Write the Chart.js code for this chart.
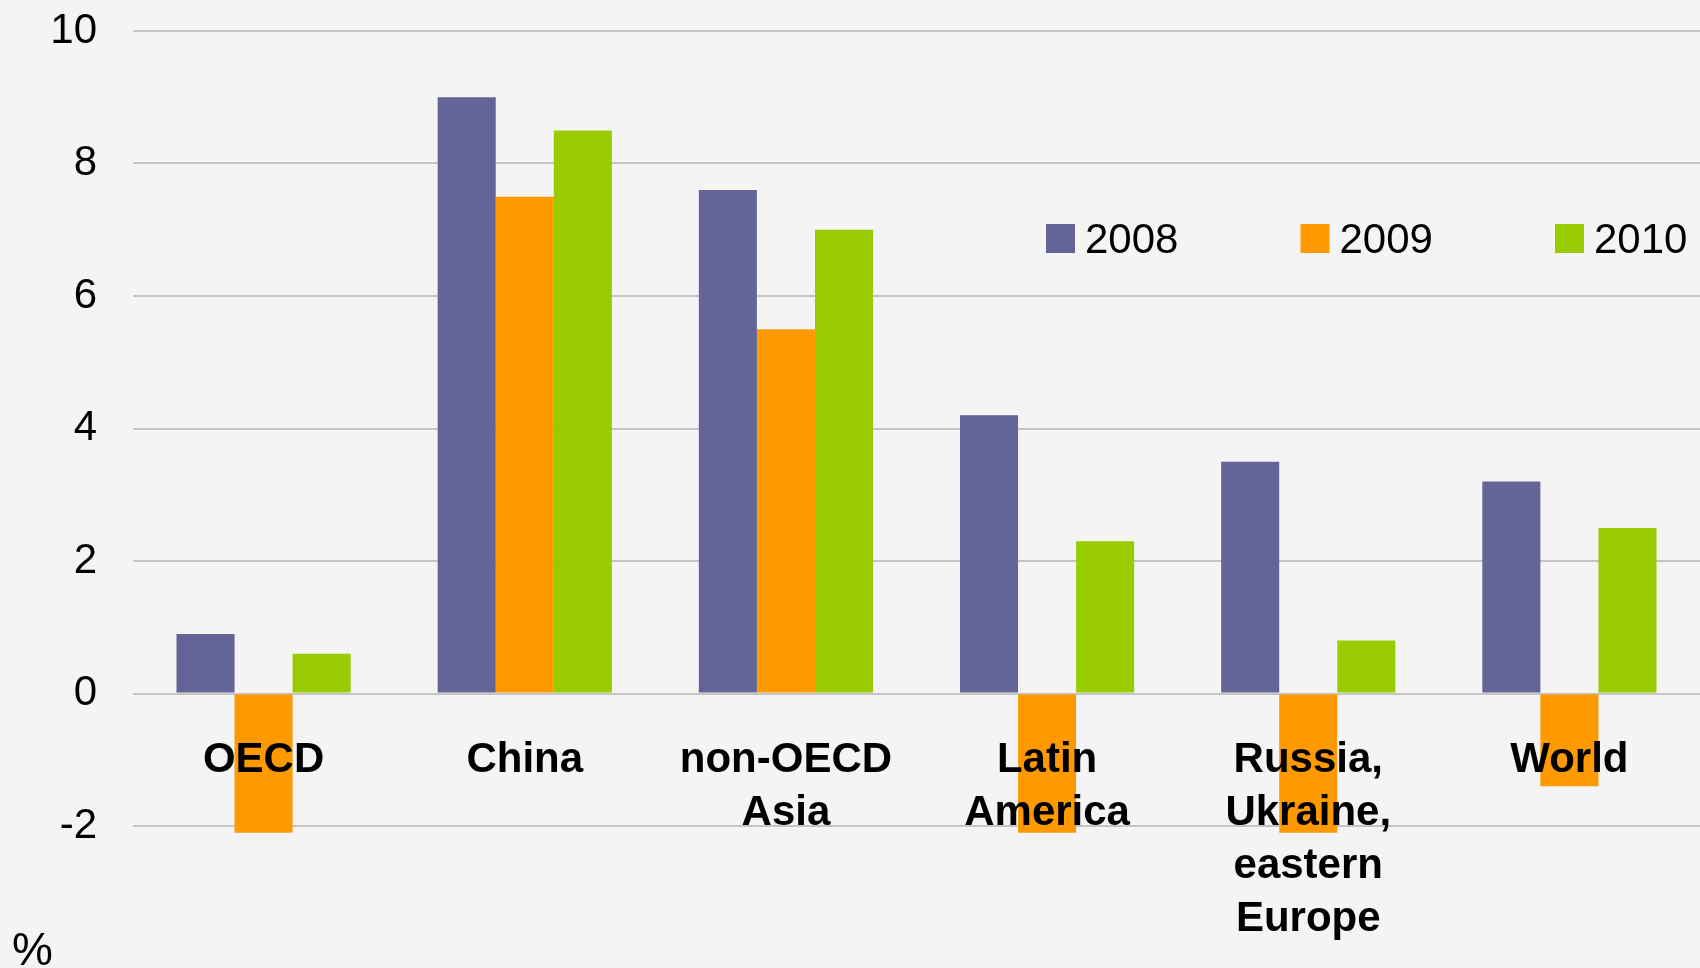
<!DOCTYPE html>
<html>
<head>
<meta charset="utf-8">
<script src="https://cdn.jsdelivr.net/npm/chart.js@4.4.0/dist/chart.umd.min.js"></script>
<style>
  html, body { margin: 0; padding: 0; background: #F4F4F4; }
  #wrap { width: 1700px; height: 968px; position: relative; }
  canvas { display: block; }
</style>
</head>
<body>
<div id="wrap"><canvas id="c" width="1700" height="968"></canvas></div>
<script>
// ---- Data ----
const categories = [
  ["OECD"],
  ["China"],
  ["non-OECD", "Asia"],
  ["Latin", "America"],
  ["Russia,", "Ukraine,", "eastern", "Europe"],
  ["World"]
];
const seriesNames = ["2008", "2009", "2010"];
const values2008 = [0.9, 9.0, 7.6, 4.2, 3.5, 3.2];
const values2009 = [-2.1, 7.5, 5.5, -2.1, -2.1, -1.4];
const values2010 = [0.6, 8.5, 7.0, 2.3, 0.8, 2.5];
const yTicks = [-2, 0, 2, 4, 6, 8, 10];
const unitLabel = "%";

const colors = ["#646496", "#FF9900", "#99CC00"];
const FONT = "'Liberation Sans', Arial, Helvetica, sans-serif";

const bgPlugin = {
  id: 'bg',
  beforeDraw(chart) {
    const ctx = chart.ctx;
    ctx.save();
    ctx.fillStyle = '#F4F4F4';
    ctx.fillRect(0, 0, chart.width, chart.height);
    ctx.restore();
  }
};

const labelsPlugin = {
  id: 'catLabels',
  afterDatasetsDraw(chart) {
    const ctx = chart.ctx;
    const xs = chart.scales.x, ys = chart.scales.y;
    const y0 = ys.getPixelForValue(0);
    ctx.save();
    ctx.fillStyle = '#000';
    ctx.textAlign = 'center';
    ctx.textBaseline = 'alphabetic';
    ctx.font = "bold 42px " + FONT;
    chart.data.labels.forEach((lines, i) => {
      const x = xs.getPixelForValue(i);
      lines.forEach((t, j) => {
        ctx.fillText(t, x, y0 + 78 + j * 53);
      });
    });
    // legend
    ctx.font = "42px " + FONT;
    ctx.textAlign = 'left';
    chart.data.datasets.forEach((ds, i) => {
      const lx = 1046 + i * 254.5;
      ctx.fillStyle = ds.backgroundColor;
      ctx.fillRect(lx, 224, 29, 29);
      ctx.fillStyle = '#000';
      ctx.fillText(ds.label, lx + 39, 253);
    });
    // unit label
    ctx.font = "46px " + FONT;
    ctx.fillText(unitLabel, 12, 965);
    ctx.restore();
  }
};

new Chart(document.getElementById('c'), {
  type: 'bar',
  data: {
    labels: categories,
    datasets: [
      { label: seriesNames[0], data: values2008, backgroundColor: colors[0] },
      { label: seriesNames[1], data: values2009, backgroundColor: colors[1] },
      { label: seriesNames[2], data: values2010, backgroundColor: colors[2] }
    ]
  },
  options: {
    responsive: false,
    animation: false,
    devicePixelRatio: 1,
    layout: { padding: { top: 31, bottom: 142, left: 0, right: 0 } },
    datasets: { bar: { categoryPercentage: 0.667, barPercentage: 1.0, clip: false, borderWidth: 0 } },
    plugins: { legend: { display: false }, tooltip: { enabled: false } },
    scales: {
      x: { display: false, grid: { display: false } },
      y: {
        min: -2, max: 10,
        afterBuildTicks(axis) { axis.ticks = yTicks.map(v => ({ value: v })); },
        afterFit(axis) { axis.width = 133; axis.paddingTop = 0; axis.paddingBottom = 0; },
        border: { display: false },
        grid: { color: '#C4C4C4', lineWidth: 2, drawTicks: false },
        ticks: {
          padding: 36,
          color: '#000',
          font: { family: FONT, size: 42 },
          callback: v => String(v)
        }
      }
    }
  },
  plugins: [bgPlugin, labelsPlugin]
});
</script>
</body>
</html>
